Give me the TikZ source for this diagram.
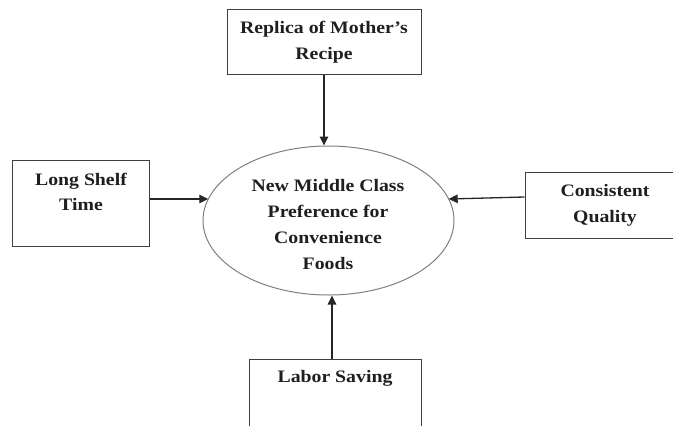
\documentclass[tikz,border=0pt]{standalone}
\usepackage{fontspec}
\setmainfont{Liberation Serif}[FakeStretch=1.13]
\usetikzlibrary{arrows.meta,shapes.geometric}
\tikzset{
  boxnode/.style={draw=black!75, line width=1pt, inner sep=0pt},
  lbl/.style={font=\fontsize{17.5}{25.7}\selectfont\bfseries, text=black!88, align=center, inner sep=0pt},
  oval/.style={draw=black!50, line width=1pt, ellipse, inner sep=0pt},
  conn/.style={draw=black!85, line width=1.3pt, -{Triangle[length=9pt,width=8.5pt]}}
}
\begin{document}
\begin{tikzpicture}[x=1pt,y=-1pt]
\useasboundingbox[fill=white] (0,0) rectangle (673,426);
% boxes
\node[boxnode, minimum width=194pt, minimum height=65pt] (top) at (324,41.5) {};
\node[lbl] (toptxt) at (324,42) {Replica of Mother's\\Recipe};
\node[boxnode, minimum width=137pt, minimum height=86pt] (left) at (80.5,203) {};
\node[lbl] (lefttxt) at (81,192) {Long Shelf\\Time};
\node[boxnode, minimum width=160pt, minimum height=66pt] (right) at (605,205) {};
\node[lbl] (righttxt) at (605,205) {Consistent\\Quality};
\node[boxnode, minimum width=172pt, minimum height=90pt] (bottom) at (335,404) {};
\node[lbl] (bottomtxt) at (335,378) {Labor Saving};
% ellipse
\node[oval, minimum width=251pt, minimum height=149pt] (mid) at (328.5,220.5) {};
\begin{scope}
\clip (200,150) rectangle (460,268.5);
\node[lbl] (midtxt) at (328,224.5) {New Middle Class\\Preference for\\Convenience\\Foods};
\end{scope}
% end points on the ellipse
\coordinate (ltip) at (208.3,199);
\coordinate (rtip) at (448.7,199);
\coordinate (rs) at (right.west |- 0,197);
% connectors
\draw[conn] (top.south -| 324,0) -- (mid.north -| 324,0);
\draw[conn] (left.east |- 0,199) -- (ltip);
\draw[conn] (rs) -- (rtip);
\draw[conn] (bottom.north -| 332,0) -- (mid.south -| 332,0);
\end{tikzpicture}
\end{document}
